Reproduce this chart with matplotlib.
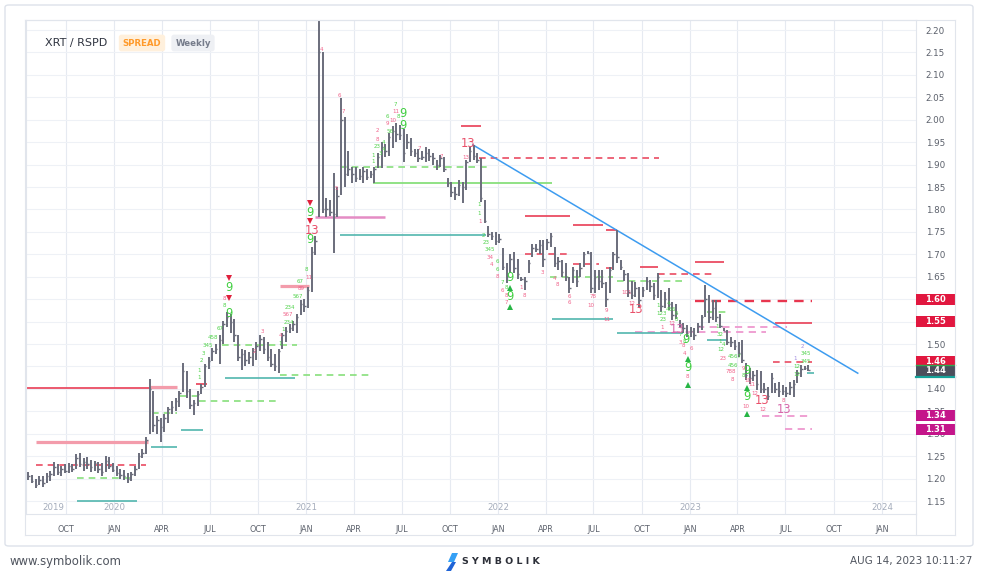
import matplotlib
matplotlib.use("Agg")
import matplotlib.pyplot as plt
import matplotlib.dates as mdates
from matplotlib.patches import Rectangle, FancyBboxPatch, Polygon
from matplotlib.lines import Line2D
from matplotlib.transforms import blended_transform_factory
from matplotlib.ticker import FormatStrFormatter
from datetime import datetime
import numpy as np
import pandas as pd

# ---------------- data: weekly XRT / RSPD bars ----------------
START_WEEK = "2019-07-22"

HIGH_2019 = [1.215, 1.208, 1.200, 1.205, 1.205, 1.212, 1.218, 1.238, 1.232, 1.228, 1.232, 1.235,
             1.232, 1.255, 1.258, 1.245, 1.248, 1.242, 1.240, 1.238, 1.235, 1.250, 1.248, 1.235]
LOW_2019 = [1.198, 1.190, 1.178, 1.185, 1.182, 1.190, 1.195, 1.205, 1.208, 1.205, 1.212, 1.212,
            1.215, 1.222, 1.225, 1.218, 1.222, 1.215, 1.218, 1.212, 1.205, 1.215, 1.222, 1.215]
CLOSE_2019 = [1.205, 1.195, 1.185, 1.198, 1.190, 1.205, 1.210, 1.225, 1.215, 1.222, 1.218, 1.228,
              1.222, 1.245, 1.232, 1.238, 1.232, 1.225, 1.235, 1.222, 1.215, 1.240, 1.228, 1.220]

HIGH_2020 = [1.228, 1.222, 1.220, 1.212, 1.215, 1.228, 1.258, 1.265, 1.292, 1.422, 1.395, 1.340, 1.335,
             1.345, 1.360, 1.372, 1.380, 1.395, 1.458, 1.440, 1.400, 1.375, 1.395, 1.412, 1.455,
             1.470, 1.492, 1.500, 1.520, 1.552, 1.572, 1.566, 1.555, 1.520, 1.490, 1.487, 1.482,
             1.492, 1.505, 1.520, 1.515, 1.505, 1.490, 1.478, 1.490, 1.525, 1.538, 1.545, 1.552,
             1.566, 1.598, 1.600]
LOW_2020 = [1.205, 1.200, 1.198, 1.190, 1.195, 1.205, 1.222, 1.245, 1.255, 1.300, 1.305, 1.300, 1.282,
            1.305, 1.325, 1.345, 1.350, 1.360, 1.392, 1.380, 1.355, 1.342, 1.362, 1.388, 1.405,
            1.445, 1.462, 1.478, 1.455, 1.500, 1.538, 1.525, 1.505, 1.462, 1.442, 1.450, 1.455,
            1.450, 1.465, 1.485, 1.478, 1.462, 1.448, 1.440, 1.435, 1.488, 1.505, 1.525, 1.528,
            1.525, 1.565, 1.572]
CLOSE_2020 = [1.212, 1.208, 1.205, 1.200, 1.210, 1.222, 1.250, 1.258, 1.285, 1.400, 1.320, 1.330, 1.315,
              1.335, 1.355, 1.360, 1.372, 1.390, 1.440, 1.395, 1.365, 1.368, 1.388, 1.405, 1.450,
              1.462, 1.485, 1.490, 1.510, 1.545, 1.560, 1.548, 1.520, 1.470, 1.478, 1.465, 1.470,
              1.485, 1.495, 1.512, 1.490, 1.470, 1.455, 1.450, 1.485, 1.520, 1.530, 1.535, 1.545,
              1.560, 1.590, 1.585]

HIGH_2021 = [1.628, 1.717, 1.740, 2.260, 2.152, 1.825, 1.820, 1.881, 1.851, 2.048, 2.007, 1.930, 1.895,
             1.895, 1.890, 1.895, 1.890, 1.885, 1.895, 1.925, 1.951, 1.945, 1.970, 1.985, 1.993,
             1.988, 1.980, 1.968, 1.960, 1.935, 1.935, 1.930, 1.940, 1.935, 1.925, 1.910, 1.922,
             1.918, 1.870, 1.862, 1.850, 1.866, 1.862, 1.910, 1.940, 1.944, 1.925, 1.914, 1.821,
             1.762, 1.750, 1.750]
LOW_2021 = [1.580, 1.617, 1.698, 1.784, 1.791, 1.784, 1.786, 1.703, 1.784, 1.832, 1.851, 1.875, 1.858,
            1.862, 1.866, 1.858, 1.865, 1.870, 1.858, 1.892, 1.892, 1.918, 1.920, 1.936, 1.951,
            1.955, 1.906, 1.935, 1.920, 1.918, 1.905, 1.910, 1.905, 1.908, 1.900, 1.888, 1.895,
            1.884, 1.850, 1.828, 1.822, 1.830, 1.815, 1.843, 1.906, 1.910, 1.903, 1.817, 1.769,
            1.739, 1.732, 1.720]
CLOSE_2021 = [1.620, 1.705, 1.730, 2.150, 1.800, 1.800, 1.795, 1.790, 1.830, 2.000, 1.880, 1.890, 1.880,
              1.870, 1.875, 1.885, 1.872, 1.878, 1.890, 1.918, 1.940, 1.930, 1.962, 1.975, 1.968,
              1.965, 1.925, 1.950, 1.930, 1.925, 1.915, 1.918, 1.925, 1.920, 1.915, 1.900, 1.915,
              1.890, 1.858, 1.840, 1.835, 1.855, 1.850, 1.905, 1.930, 1.920, 1.910, 1.825, 1.775,
              1.745, 1.740, 1.730]

HIGH_2022 = [1.745, 1.713, 1.680, 1.700, 1.706, 1.690, 1.650, 1.650, 1.687, 1.724, 1.724, 1.732, 1.732,
             1.735, 1.747, 1.717, 1.695, 1.687, 1.680, 1.650, 1.672, 1.665, 1.680, 1.706, 1.708,
             1.706, 1.665, 1.665, 1.665, 1.639, 1.672, 1.706, 1.754, 1.688, 1.665, 1.658, 1.640,
             1.638, 1.628, 1.628, 1.650, 1.643, 1.636, 1.658, 1.620, 1.616, 1.624, 1.594, 1.590,
             1.553, 1.546, 1.542]
LOW_2022 = [1.725, 1.665, 1.635, 1.658, 1.658, 1.645, 1.640, 1.620, 1.658, 1.695, 1.705, 1.700, 1.672,
            1.710, 1.717, 1.672, 1.665, 1.650, 1.640, 1.613, 1.635, 1.628, 1.650, 1.672, 1.700,
            1.613, 1.613, 1.620, 1.625, 1.583, 1.613, 1.665, 1.680, 1.665, 1.640, 1.605, 1.600,
            1.605, 1.583, 1.605, 1.620, 1.615, 1.598, 1.602, 1.572, 1.580, 1.576, 1.553, 1.555,
            1.539, 1.524, 1.516]
CLOSE_2022 = [1.735, 1.672, 1.650, 1.690, 1.670, 1.655, 1.645, 1.640, 1.680, 1.715, 1.712, 1.720, 1.690,
              1.728, 1.740, 1.680, 1.685, 1.660, 1.650, 1.625, 1.665, 1.640, 1.670, 1.700, 1.702,
              1.625, 1.650, 1.640, 1.635, 1.600, 1.665, 1.700, 1.695, 1.672, 1.655, 1.615, 1.610,
              1.625, 1.598, 1.620, 1.640, 1.630, 1.610, 1.650, 1.585, 1.600, 1.590, 1.565, 1.570,
              1.545, 1.535, 1.525]

HIGH_2023 = [1.539, 1.535, 1.546, 1.565, 1.632, 1.609, 1.598, 1.598, 1.568, 1.535, 1.531, 1.516, 1.509,
             1.505, 1.509, 1.457, 1.446, 1.440, 1.442, 1.440, 1.413, 1.405, 1.436, 1.413, 1.416,
             1.409, 1.405, 1.416, 1.420, 1.442, 1.453, 1.450, 1.453]
LOW_2023 = [1.516, 1.509, 1.524, 1.531, 1.561, 1.546, 1.553, 1.550, 1.535, 1.528, 1.498, 1.494, 1.487,
            1.472, 1.457, 1.420, 1.412, 1.418, 1.398, 1.390, 1.390, 1.375, 1.390, 1.390, 1.383,
            1.387, 1.383, 1.387, 1.383, 1.413, 1.427, 1.442, 1.440]
CLOSE_2023 = [1.530, 1.520, 1.540, 1.560, 1.600, 1.560, 1.580, 1.560, 1.540, 1.530, 1.505, 1.505, 1.495,
              1.480, 1.465, 1.430, 1.425, 1.430, 1.410, 1.400, 1.400, 1.385, 1.425, 1.400, 1.395,
              1.395, 1.390, 1.405, 1.410, 1.435, 1.445, 1.446, 1.442]

HIGH = HIGH_2019 + HIGH_2020 + HIGH_2021 + HIGH_2022 + HIGH_2023
LOW = LOW_2019 + LOW_2020 + LOW_2021 + LOW_2022 + LOW_2023
CLOSE = CLOSE_2019 + CLOSE_2020 + CLOSE_2021 + CLOSE_2022 + CLOSE_2023

# support / resistance levels (start week index, end week index, price, kind)
LEVEL_START = [-3, 33, 2.2, 2.2, 13.1, 13.1, 33.5, 33.4, 41.4, 41.1, 46.5, 45.5, 53.4, 52.5, 68.3,
               68.3, 77.8, 84.6, 93.6, 84.6, 117.7, 122.6, 134.9, 147.9, 157.1, 134.9, 147.9,
               141.7, 142.2, 157.1, 160.1, 166.1, 171.0, 181.3, 181.3, 202.8, 181.6, 165.0,
               160.1, 184.3, 184.3, 202.3, 199.3, 205.5, 211.5]
LEVEL_END = [40.3, 40.3, 32.4, 32.1, 28.9, 29.4, 40.3, 40.3, 47.4, 46.5, 68.3, 48.5, 72.6, 72.9, 93.6,
             76.4, 96.8, 124.5, 142.2, 124.8, 122.9, 171.5, 147.1, 156.1, 160.1, 146.3, 155.2,
             158.8, 158.8, 160.1, 177.8, 171.0, 186.7, 189.1, 212.9, 213.1, 206.3, 200.6,
             177.8, 189.6, 189.6, 212.9, 212.9, 212.9, 213.5]
LEVEL_PRICE = [1.403, 1.405, 1.282, 1.230, 1.202, 1.149, 1.346, 1.270, 1.308, 1.384, 1.374, 1.411,
               1.424, 1.498, 1.432, 1.630, 1.784, 1.743, 1.860, 1.895, 1.987, 1.915, 1.786, 1.765,
               1.754, 1.701, 1.678, 1.650, 1.556, 1.669, 1.640, 1.671, 1.656, 1.682, 1.597, 1.546,
               1.539, 1.527, 1.524, 1.509, 1.572, 1.461, 1.340, 1.311, 1.436]
LEVEL_KIND = ["red", "lightred", "lightred", "reddash", "greendash", "teal", "greendash", "teal",
              "teal", "greendash", "greendash", "red", "teal", "greendash", "greendash", "lightred",
              "pink", "teal", "green", "greendash", "red", "reddash", "red", "red", "red",
              "reddash", "reddash", "greendash", "teal", "reddash", "greendash", "red", "reddash",
              "red", "reddashbold", "red", "pinkdash", "pinkdash", "teal", "teal", "greendash",
              "reddash", "pinkdash", "pinkdash", "teal"]

TREND_IDX = [120.8, 225.4]
TREND_PRICE = [1.944, 1.435]

# big TD markers
BIG_IDX = [54.5, 54.5, 76.6, 77.0, 76.6, 101.8, 101.8, 119.6, 130.8, 130.8, 165.2, 176.4,
           178.8, 179.2, 195.3, 195.3, 199.3, 205.5]
BIG_PRICE = [1.6255, 1.567, 1.794, 1.754, 1.733, 2.014, 1.988, 1.946, 1.648, 1.6055, 1.578, 1.533,
             1.509, 1.448, 1.442, 1.3825, 1.375, 1.353]
BIG_TEXT = ["9", "9", "9", "13", "9", "9", "9", "13", "9", "9", "13", "13",
            "9", "9", "9", "9", "13", "13"]
BIG_KIND = ["g", "g", "g", "r", "g", "g", "g", "r", "g", "g", "r", "p",
            "g", "g", "g", "g", "r", "p"]

TRI_IDX = [54.5, 54.5, 76.6, 76.6, 130.8, 130.8, 179.2, 179.2, 195.3, 195.3]
TRI_PRICE = [1.6465, 1.603, 1.815, 1.774, 1.624, 1.583, 1.467, 1.409, 1.401, 1.343]
TRI_KIND = ["sell", "sell", "sell", "sell", "buy", "buy", "buy", "buy", "buy", "buy"]

# small TD counts
SMALL_IDX = [46.3, 46.3, 47.1, 47.7, 48.8, 50.2, 52.0, 53.2, 53.2, 61.5, 63.6, 68.5, 68.5, 69.2,
             70.8, 70.5, 71.0, 73.3, 73.9, 74.2, 76.3, 75.5, 79.6, 84.6, 85.5, 83.6, 93.6, 93.6,
             94.8, 95.7, 94.8, 94.8, 96.6, 96.6, 98.2, 97.6, 99.1, 97.6, 99.8, 99.7, 100.7, 106.3,
             112.2, 119.0, 122.6, 122.6, 122.8, 123.7, 124.3, 125.4, 125.4, 125.8, 127.6, 127.6,
             127.6, 128.7, 129.9, 128.7, 129.9, 129.9, 134.0, 134.9, 139.8, 143.0, 143.9, 146.9,
             146.9, 153.4, 153.0, 157.1, 157.1, 162.5, 164.1, 171.1, 174.0, 172.0, 174.5, 172.4,
             176.1, 176.1, 175.0, 172.2, 177.2, 178.3, 177.2, 178.1, 178.3, 180.2, 179.2, 187.1,
             188.0, 188.0, 188.9, 188.3, 188.8, 191.9, 191.5, 191.0, 194.2, 191.3, 194.4, 195.4,
             195.1, 196.7, 197.4, 199.5, 205.3, 210.3, 208.4, 211.4, 211.4, 208.9, 208.9]
SMALL_PRICE = [1.442, 1.425, 1.464, 1.479, 1.496, 1.515, 1.535, 1.602, 1.585, 1.483, 1.527, 1.519,
               1.502, 1.533, 1.547, 1.565, 1.581, 1.607, 1.639, 1.624, 1.649, 1.667, 2.157, 2.055,
               2.018, 1.847, 1.921, 1.906, 1.940, 1.924, 1.957, 1.975, 1.950, 1.934, 1.973, 1.992,
               1.999, 2.007, 2.019, 2.035, 2.008, 1.936, 1.918, 1.916, 1.810, 1.791, 1.773, 1.743,
               1.726, 1.710, 1.693, 1.678, 1.684, 1.667, 1.650, 1.637, 1.626, 1.619, 1.608, 1.593,
               1.626, 1.609, 1.659, 1.645, 1.632, 1.605, 1.592, 1.605, 1.585, 1.574, 1.554, 1.614,
               1.591, 1.585, 1.591, 1.568, 1.576, 1.554, 1.568, 1.554, 1.545, 1.537, 1.522, 1.505,
               1.504, 1.496, 1.479, 1.490, 1.427, 1.539, 1.522, 1.505, 1.498, 1.488, 1.468, 1.472,
               1.453, 1.438, 1.429, 1.421, 1.446, 1.418, 1.360, 1.409, 1.390, 1.354, 1.375, 1.494,
               1.468, 1.479, 1.461, 1.449, 1.431]
SMALL_TEXT = ["1", "1", "2", "3", "345", "458", "67", "8", "8", "2", "3", "4", "1", "1",
              "234", "567", "234", "567", "67", "89", "11", "8", "4", "6", "7", "5", "1", "1",
              "23", "3", "8", "2", "4", "4", "56", "9", "10", "6", "11", "7", "8", "7",
              "7", "13", "1", "1", "1", "2", "23", "345", "34", "4", "6", "6",
              "8", "7", "8", "6", "8", "7", "1", "8", "3", "4", "8", "6",
              "6", "78", "10", "9", "11", "101", "12", "1", "4", "123", "456", "23",
              "6", "8", "12", "1", "7", "8", "3", "8", "4", "6", "8", "1",
              "32", "1", "4", "12", "23", "4567", "456", "788", "8", "8", "9", "10",
              "10", "11", "12", "12", "8", "2", "1", "345", "345", "12", "12"]
SMALL_KIND = ["g", "g", "g", "g", "g", "g", "g", "p", "g", "p", "p", "p", "g", "g",
              "g", "p", "g", "g", "g", "p", "p", "g", "p", "p", "p", "p", "g", "g",
              "g", "g", "p", "p", "g", "g", "g", "p", "p", "g", "p", "g", "g", "p",
              "p", "p", "g", "g", "p", "g", "g", "g", "p", "p", "g", "g",
              "p", "g", "g", "p", "p", "p", "p", "p", "p", "p", "p", "p",
              "p", "p", "p", "p", "p", "p", "p", "g", "g", "g", "g", "g",
              "g", "g", "p", "p", "g", "g", "p", "p", "p", "p", "p", "g",
              "g", "g", "g", "g", "p", "g", "g", "p", "g", "p", "p", "p",
              "p", "p", "p", "p", "p", "v", "v", "g", "g", "g", "g"]

# right-axis price flags
FLAG_PRICE = [1.60, 1.55, 1.46, 1.44, 1.34, 1.31]
FLAG_KIND = ["red", "red", "red", "last", "magenta", "magenta"]

QUARTER_TICKS = pd.date_range("2019-10-01", "2024-01-01", freq="QS")
YEAR_TEXT = ["2019", "2020", "2021", "2022", "2023", "2024"]
YEAR_POS = ["2019-09-07", "2020-01-01", "2021-01-01", "2022-01-01", "2023-01-01", "2024-01-01"]

# ---------------- figure ----------------
W, H = 981, 575
fig = plt.figure(figsize=(W / 100, H / 100), dpi=100)
fig.patch.set_facecolor("white")


def fx(px):
    return px / W


def fy(py):
    return 1 - py / H


L, R, T, B = 26, 916, 20, 514
ax = fig.add_axes([fx(L), fy(B), (R - L) / W, (B - T) / H])
ax.set_facecolor("white")

dates = pd.date_range(START_WEEK, periods=len(HIGH), freq="7D")
xd = mdates.date2num(dates.to_pydatetime())
x0 = xd[0]


def ix(i):
    return x0 + 7.0 * np.asarray(i, dtype=float)


d20 = mdates.date2num(datetime(2020, 1, 1))
ax.set_xlim(d20 - 167.4, d20 + 1525.6)
ax.set_ylim(1.1211, 2.2223)

# grid
ax.set_yticks(np.round(np.arange(1.15, 2.2001, 0.05), 2))
ax.yaxis.set_major_formatter(FormatStrFormatter("%.2f"))
ax.yaxis.tick_right()
ax.tick_params(axis="y", length=0, pad=7, labelsize=6.3, labelcolor="#5b606b")
qt = mdates.date2num(QUARTER_TICKS.to_pydatetime())
ax.set_xticks(qt)
ax.set_xticklabels([d.strftime("%b").upper() for d in QUARTER_TICKS])
ax.tick_params(axis="x", length=0, pad=8, labelsize=5.8, labelcolor="#5b606b")
ax.grid(True, axis="y", color="#eef1f6", lw=0.8, zorder=0)
ax.grid(True, axis="x", color="#e6eaf1", lw=0.8, zorder=0)
ax.set_axisbelow(True)
for s in ax.spines.values():
    s.set_color("#e1e5ec")
    s.set_linewidth(0.8)

# year labels inside plot
btr = blended_transform_factory(ax.transData, ax.transAxes)
for t, p in zip(YEAR_TEXT, YEAR_POS):
    ax.text(mdates.date2num(datetime.strptime(p, "%Y-%m-%d")), 0.013, t, transform=btr,
            ha="center", va="center", fontsize=6.2, color="#a4acbb")

# levels
STY = {
    "red": dict(color="#ea4c62", lw=1.3, ls="-"),
    "lightred": dict(color="#f39cab", lw=2.3, ls="-"),
    "reddash": dict(color="#ea4c62", lw=1.2, ls=(0, (4, 3))),
    "reddashbold": dict(color="#e8364f", lw=1.7, ls=(0, (4, 3))),
    "greendash": dict(color="#88df7c", lw=1.2, ls=(0, (4, 3))),
    "green": dict(color="#88df7c", lw=1.3, ls="-"),
    "teal": dict(color="#52b6ae", lw=1.2, ls="-"),
    "pink": dict(color="#e48cc4", lw=1.8, ls="-"),
    "pinkdash": dict(color="#ee98cf", lw=1.3, ls=(0, (4, 3))),
}
for s0, s1, p, k in zip(LEVEL_START, LEVEL_END, LEVEL_PRICE, LEVEL_KIND):
    st = STY[k]
    ax.plot([ix(s0), ix(s1)], [p, p], color=st["color"], lw=st["lw"], ls=st["ls"], zorder=2,
            solid_capstyle="butt")

# trend line
ax.plot(ix(TREND_IDX), TREND_PRICE, color="#3d9cf0", lw=1.1, zorder=2.5)

# OHLC bars
BAR = "#6a6d7b"
ax.vlines(xd, LOW, HIGH, color=BAR, lw=1.4, zorder=3)
ax.hlines(CLOSE, xd, xd + 2.8, color=BAR, lw=1.0, zorder=3)

# TD labels
SCOL = {"g": "#4fd24a", "p": "#f0628a", "v": "#a18be0"}
for i, p, t, k in zip(SMALL_IDX, SMALL_PRICE, SMALL_TEXT, SMALL_KIND):
    ax.text(ix(i), p, t, color=SCOL[k], fontsize=4.0, ha="center", va="center", zorder=4)

BCOL = {"g": "#3fcf3f", "r": "#e9506a", "p": "#d767aa"}
for i, p, t, k in zip(BIG_IDX, BIG_PRICE, BIG_TEXT, BIG_KIND):
    ax.text(ix(i), p, t, color=BCOL[k], fontsize=8.3, ha="center", va="center", zorder=4.5)

for i, p, k in zip(TRI_IDX, TRI_PRICE, TRI_KIND):
    if k == "sell":
        ax.plot(ix(i), p, marker="v", color="#e0203c", ms=3.8, mew=0, zorder=4.5)
    else:
        ax.plot(ix(i), p, marker="^", color="#27b545", ms=3.8, mew=0, zorder=4.5)

# price flags on right axis
rtr = blended_transform_factory(ax.transAxes, ax.transData)
FCOL = {"red": "#e1173f", "last": "#4b4f5c", "magenta": "#c4158a"}
fw = 39 / (R - L)
hh = 0.0125
for p, k in zip(FLAG_PRICE, FLAG_KIND):
    ax.add_patch(Rectangle((1.0, p - hh), fw, 2 * hh, transform=rtr, clip_on=False,
                           fc=FCOL[k], ec="none", zorder=6))
    ax.text(1.0 + fw / 2, p, f"{p:.2f}", transform=rtr, ha="center", va="center",
            fontsize=6, color="white", weight="bold", zorder=7, clip_on=False)
    if k == "last":
        ax.plot([1.0, 1.0 + fw], [p + hh, p + hh], transform=rtr, color="#2fa84f", lw=1.0,
                clip_on=False, zorder=7)
        ax.plot([1.0, 1.0 + fw], [p - hh, p - hh], transform=rtr, color="#15a39a", lw=1.6,
                clip_on=False, zorder=7)

# ---------------- frame and chrome ----------------
frame = FancyBboxPatch((fx(5), fy(546)), fx(968), (541) / H, boxstyle="round,pad=0,rounding_size=0.004",
                       transform=fig.transFigure, fc="none", ec="#dde2ea", lw=1.0)
fig.add_artist(frame)
for (xa, ya, xb, yb) in [(25, 535, 955, 535), (955, 20, 955, 535), (25, 20, 25, 535),
                         (25, 20, 955, 20), (916, 514, 916, 535)]:
    fig.add_artist(Line2D([fx(xa), fx(xb)], [fy(ya), fy(yb)], transform=fig.transFigure,
                          color="#e1e5ec", lw=0.8))

fig.text(fx(45), fy(43), "XRT / RSPD", fontsize=8.0, color="#2f3440", ha="left", va="center")
fig.text(fx(142), fy(43), "SPREAD", fontsize=6.2, color="#ff9a2a", weight="bold", ha="center",
         va="center", bbox=dict(boxstyle="round,pad=0.45,rounding_size=0.3", fc="#fff0dc", ec="none"))
fig.text(fx(193), fy(43), "Weekly", fontsize=6.2, color="#767c8b", weight="bold", ha="center",
         va="center", bbox=dict(boxstyle="round,pad=0.45,rounding_size=0.3", fc="#eef0f4", ec="none"))

fig.text(fx(10), fy(561), "www.symbolik.com", fontsize=8.4, color="#50555f", ha="left", va="center")
fig.text(fx(972), fy(561), "AUG 14, 2023 10:11:27", fontsize=7.5, color="#50555f", ha="right",
         va="center")
fig.text(fx(462), fy(562), "S Y M B O L I K", fontsize=6.8, color="#2c2f38", weight="bold",
         ha="left", va="center")
logo1 = Polygon([(fx(452), fy(553)), (fx(458), fy(553)), (fx(454), fy(562)), (fx(448), fy(562))],
                closed=True, transform=fig.transFigure, fc="#35a0f5", ec="none")
logo2 = Polygon([(fx(452), fy(562)), (fx(456), fy(562)), (fx(451), fy(571)), (fx(446), fy(571))],
                closed=True, transform=fig.transFigure, fc="#1f63d6", ec="none")
fig.add_artist(logo1)
fig.add_artist(logo2)

fig.savefig("out.png", dpi=100, facecolor="white")
